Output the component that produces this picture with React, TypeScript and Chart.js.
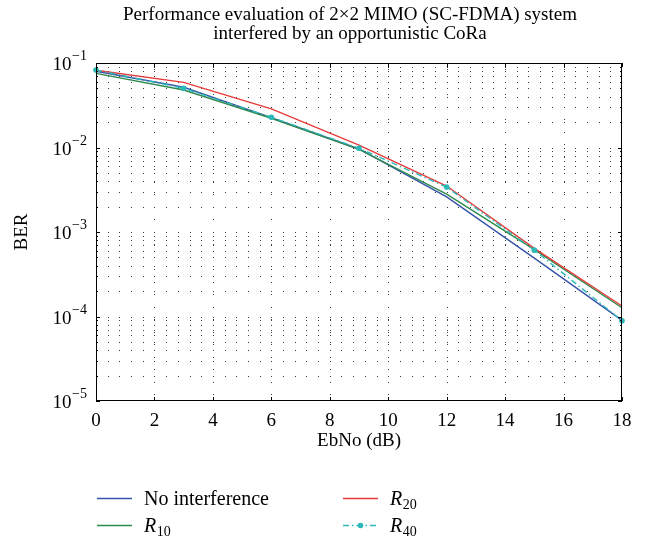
import React, { useEffect, useRef } from 'react';
import { Chart, registerables } from 'chart.js';

Chart.register(...registerables);

// ---------- data ----------
const ebno = [0, 3, 6, 9, 12, 15, 18];
const berNoInterference = [0.080, 0.0516, 0.0225, 0.0096, 0.0026, 0.00049, 0.000090];
const berR10 = [0.0755, 0.0479, 0.0222, 0.0095, 0.0028, 0.00062, 0.000127];
const berR20 = [0.082, 0.059, 0.0286, 0.0107, 0.0035, 0.00064, 0.000133];
const berR40 = [0.0826, 0.0502, 0.0228, 0.0098, 0.0034, 0.00061, 0.000089];

const seriesNames = ['No interference', 'R10', 'R20', 'R40'];
const xTicks = [0, 2, 4, 6, 8, 10, 12, 14, 16, 18];
const yDecadeExponents = [-5, -4, -3, -2, -1];
const titleLines = [
  'Performance evaluation of 2\u00d72 MIMO (SC-FDMA) system',
  'interfered by an opportunistic CoRa',
];
const xAxisLabel = 'EbNo (dB)';
const yAxisLabel = 'BER';

// ---------- styles ----------
const FONT = '"Liberation Serif", "Times New Roman", serif';
const COLORS = ['#3553a8', '#2f8a4e', '#e63b3b', '#2cb8b8'];

const toPts = (ys: number[]) => ebno.map((x, i) => ({ x, y: ys[i] }));

function drawSubLabel(ctx: CanvasRenderingContext2D, text: string, x: number, baseline: number, size: number) {
  const m = /^([A-Za-z])(\d+)$/.exec(text);
  ctx.textAlign = 'left';
  ctx.textBaseline = 'alphabetic';
  if (!m) {
    ctx.font = `${size}px ${FONT}`;
    ctx.fillText(text, x, baseline);
    return;
  }
  ctx.font = `italic ${size}px ${FONT}`;
  ctx.fillText(m[1], x, baseline);
  const w = ctx.measureText(m[1]).width;
  ctx.font = `${Math.round(size * 0.72)}px ${FONT}`;
  ctx.fillText(m[2], x + w + 0.5, baseline + 4);
}

const matlabPlugin = {
  id: 'matlabAxes',
  beforeDatasetsDraw(chart: any) {
    const { ctx, chartArea: a, scales } = chart;
    const x = scales.x;
    const y = scales.y;
    ctx.save();
    ctx.fillStyle = '#3c3c3c';
    const xs: number[] = [];
    for (let i = 1; i < 45; i++) xs.push(i * 0.4);
    for (let d = -5; d <= -2; d++) {
      for (let m = 1; m <= 9; m++) {
        if (d === -5 && m === 1) continue;
        const py = Math.round(y.getPixelForValue(m * Math.pow(10, d)));
        for (const xv of xs) {
          const px = Math.round(x.getPixelForValue(xv));
          ctx.fillRect(px, py, 1, 1);
        }
      }
    }
    for (const t of xTicks) {
      if (t <= xTicks[0] || t >= xTicks[xTicks.length - 1]) continue;
      const px = Math.round(x.getPixelForValue(t));
      for (let py = a.top + 6; py < a.bottom - 2; py += 12.5) ctx.fillRect(px, Math.round(py), 1, 1);
    }
    ctx.restore();
  },
  afterDraw(chart: any) {
    const { ctx, chartArea: a, scales } = chart;
    const x = scales.x;
    const y = scales.y;
    ctx.save();
    ctx.strokeStyle = '#000';
    ctx.fillStyle = '#000';
    ctx.lineWidth = 1;
    ctx.strokeRect(a.left + 0.5, a.top + 0.5, a.right - a.left - 1, a.bottom - a.top - 1);
    ctx.beginPath();
    for (const t of xTicks) {
      const px = Math.round(x.getPixelForValue(t)) + 0.5;
      ctx.moveTo(px, a.bottom); ctx.lineTo(px, a.bottom - 4);
      ctx.moveTo(px, a.top); ctx.lineTo(px, a.top + 4);
    }
    for (let d = -5; d <= -2; d++) {
      for (let m = 1; m <= 9; m++) {
        const py = Math.round(y.getPixelForValue(m * Math.pow(10, d))) + 0.5;
        const len = m === 1 ? 4 : 2;
        ctx.moveTo(a.left, py); ctx.lineTo(a.left + len, py);
        ctx.moveTo(a.right, py); ctx.lineTo(a.right - len, py);
      }
    }
    ctx.stroke();

    ctx.font = `19px ${FONT}`;
    ctx.textAlign = 'center';
    ctx.textBaseline = 'alphabetic';
    for (const t of xTicks) {
      ctx.fillText(String(t), x.getPixelForValue(t), a.bottom + 25);
    }
    for (const e of yDecadeExponents) {
      const py = y.getPixelForValue(Math.pow(10, e));
      const sup = '\u2212' + Math.abs(e);
      ctx.font = `14px ${FONT}`;
      const supW = ctx.measureText(sup).width;
      const right = a.left - 9;
      ctx.textAlign = 'left';
      ctx.fillText(sup, right - supW, py - 3);
      ctx.font = `19px ${FONT}`;
      ctx.textAlign = 'right';
      ctx.fillText('10', right - supW - 0.5, py + 7);
    }
    ctx.font = `19px ${FONT}`;
    ctx.textAlign = 'center';
    ctx.fillText(xAxisLabel, (a.left + a.right) / 2, a.bottom + 45);
    ctx.save();
    ctx.translate(27, (a.top + a.bottom) / 2);
    ctx.rotate(-Math.PI / 2);
    ctx.fillText(yAxisLabel, 0, 0);
    ctx.restore();

    ctx.font = `19px ${FONT}`;
    ctx.textAlign = 'center';
    titleLines.forEach((line, i) => ctx.fillText(line, 350, 20 + i * 18.5));

    const ds = chart.data.datasets;
    seriesNames.forEach((name, i) => {
      const col = Math.floor(i / 2);
      const row = i % 2;
      const x0 = col === 0 ? 97 : 343;
      const yy = 498 + row * 27;
      const d = ds[i];
      ctx.save();
      ctx.strokeStyle = d.borderColor;
      ctx.lineWidth = d.borderWidth;
      ctx.setLineDash(d.borderDash || []);
      ctx.beginPath();
      ctx.moveTo(x0, yy + 0.5);
      ctx.lineTo(x0 + 35, yy + 0.5);
      ctx.stroke();
      if (d.pointRadius > 0) {
        ctx.fillStyle = d.pointBackgroundColor;
        ctx.beginPath();
        ctx.arc(x0 + 17.5, yy + 0.5, d.pointRadius, 0, Math.PI * 2);
        ctx.fill();
      }
      ctx.restore();
      ctx.fillStyle = '#000';
      drawSubLabel(ctx, name, x0 + 47, yy + 7, 20);
    });
    ctx.restore();
  },
};

export default function App() {
  const ref = useRef<HTMLCanvasElement>(null);
  useEffect(() => {
    document.body.style.margin = '0';
    const seriesData = [berNoInterference, berR10, berR20, berR40];
    const chart = new Chart(ref.current as HTMLCanvasElement, {
      type: 'line',
      data: {
        datasets: seriesNames.map((name, i) => ({
          label: name,
          data: toPts(seriesData[i]),
          borderColor: COLORS[i],
          backgroundColor: COLORS[i],
          borderWidth: 1.4,
          borderDash: i === 3 ? [6, 3, 1.5, 3] : [],
          pointRadius: i === 3 ? 2.8 : 0,
          pointBackgroundColor: COLORS[i],
          pointBorderWidth: 0,
          tension: 0,
          fill: false,
          clip: false as any,
          order: 4 - i,
        })),
      },
      options: {
        animation: false,
        responsive: false,
        devicePixelRatio: 1,
        layout: { padding: { left: 96, right: 29, top: 63, bottom: 137 } },
        plugins: { legend: { display: false }, title: { display: false }, tooltip: { enabled: false } },
        scales: {
          x: { type: 'linear', min: 0, max: 18, display: false },
          y: { type: 'logarithmic', min: 1e-5, max: 1e-1, display: false },
        },
      },
      plugins: [matlabPlugin],
    });
    return () => chart.destroy();
  }, []);
  return (
    <canvas ref={ref} width={651} height={538} style={{ display: 'block', width: 651, height: 538 }} />
  );
}
